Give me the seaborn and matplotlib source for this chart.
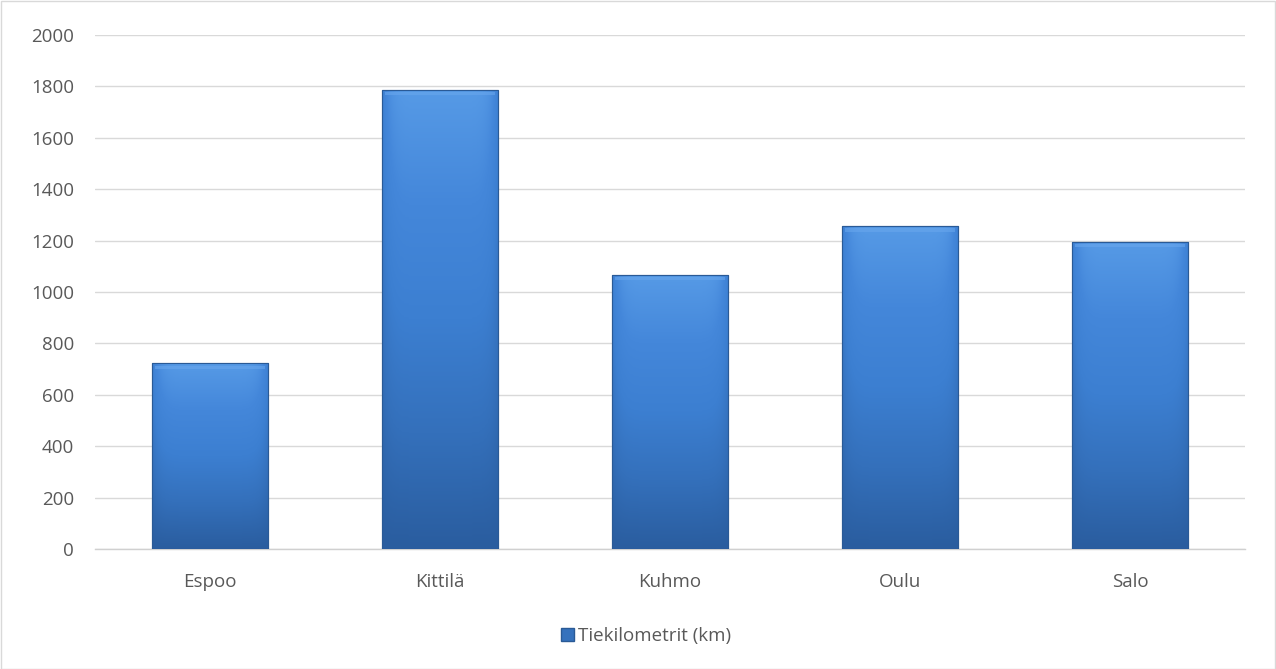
import numpy as np
import pandas as pd
import matplotlib
matplotlib.use("Agg")
import matplotlib.pyplot as plt
from matplotlib.colors import LinearSegmentedColormap
from matplotlib.patches import Rectangle
import seaborn as sns

# Road kilometres per municipality
municipalities = ["Espoo", "Kittilä", "Kuhmo", "Oulu", "Salo"]
road_km = [722, 1787, 1068, 1256, 1196]
series_name = "Tiekilometrit (km)"
y_ticks = [0, 200, 400, 600, 800, 1000, 1200, 1400, 1600, 1800, 2000]

df = pd.DataFrame({"Kunta": municipalities, series_name: road_km})

sns.set_theme(style="white")
plt.rcParams["font.family"] = ["Open Sans", "DejaVu Sans"]

fig = plt.figure(figsize=(12.76, 6.69), dpi=100)
ax = fig.add_axes([95 / 1276, 120 / 669, 1150 / 1276, 514 / 669])

base_blue = "#3b7bcc"
sns.barplot(data=df, x="Kunta", y=series_name, color=base_blue, width=0.505,
            saturation=1, ax=ax, zorder=3, edgecolor="#2a5a96", linewidth=0.8)

# Beveled gradient fill clipped to each bar
grad = LinearSegmentedColormap.from_list(
    "bar", ["#2a5d9f", "#3470bb", "#3c7fd1", "#4487da", "#569ae6"])
for patch in ax.patches:
    x0, y0 = patch.get_x(), patch.get_y()
    w, h = patch.get_width(), patch.get_height()
    vert = np.linspace(0, 1, 256).reshape(-1, 1)
    horiz = 1 - 0.45 * (np.abs(np.linspace(-1, 1, 96)) ** 8)
    img = vert * horiz
    im = ax.imshow(img, cmap=grad, vmin=0, vmax=1, aspect="auto", origin="lower",
                   extent=[x0, x0 + w, y0, y0 + h], zorder=3.5, interpolation="bilinear")
    im.set_clip_path(patch)
    # light top bevel strip
    ax.add_patch(Rectangle((x0 + w * 0.03, y0 + h - 22), w * 0.94, 14,
                           facecolor="#6aa8ee", edgecolor="none", alpha=0.55, zorder=3.6))
    ax.add_patch(Rectangle((x0, y0), w, h, facecolor="none",
                           edgecolor="#2a5a96", linewidth=0.8, zorder=3.7))

ax.set_xlim(-0.5, len(municipalities) - 0.5)
ax.set_ylim(0, 2000)
ax.set_yticks(y_ticks)
ax.set_yticklabels([str(t) for t in y_ticks])
ax.yaxis.grid(True, color="#d9d9d9", linewidth=1, zorder=0)
ax.set_axisbelow(True)
for side in ["top", "right", "left"]:
    ax.spines[side].set_visible(False)
ax.spines["bottom"].set_color("#d0d0d0")
ax.spines["bottom"].set_linewidth(1)
ax.tick_params(axis="both", length=0, labelsize=13.5, colors="#595959")
ax.tick_params(axis="y", pad=15)
ax.tick_params(axis="x", pad=17)
ax.set_xlabel("")
ax.set_ylabel("")

# Legend
handle = Rectangle((0, 0), 1, 1, facecolor="#3672bd", edgecolor="#2a5a96")
fig.legend([handle], [series_name], loc="center", bbox_to_anchor=(646 / 1276, 1 - 636 / 669),
           frameon=False, fontsize=13.5, handlelength=0.7, handleheight=0.7,
           handletextpad=0.2, labelcolor="#595959")

# Chart border
fig.patches.append(Rectangle((0.5 / 1276, 0.5 / 669), 1 - 1.5 / 1276, 1 - 1.5 / 669,
                             transform=fig.transFigure, facecolor="none",
                             edgecolor="#d9d9d9", linewidth=1))

fig.savefig("out.png", dpi=100)
